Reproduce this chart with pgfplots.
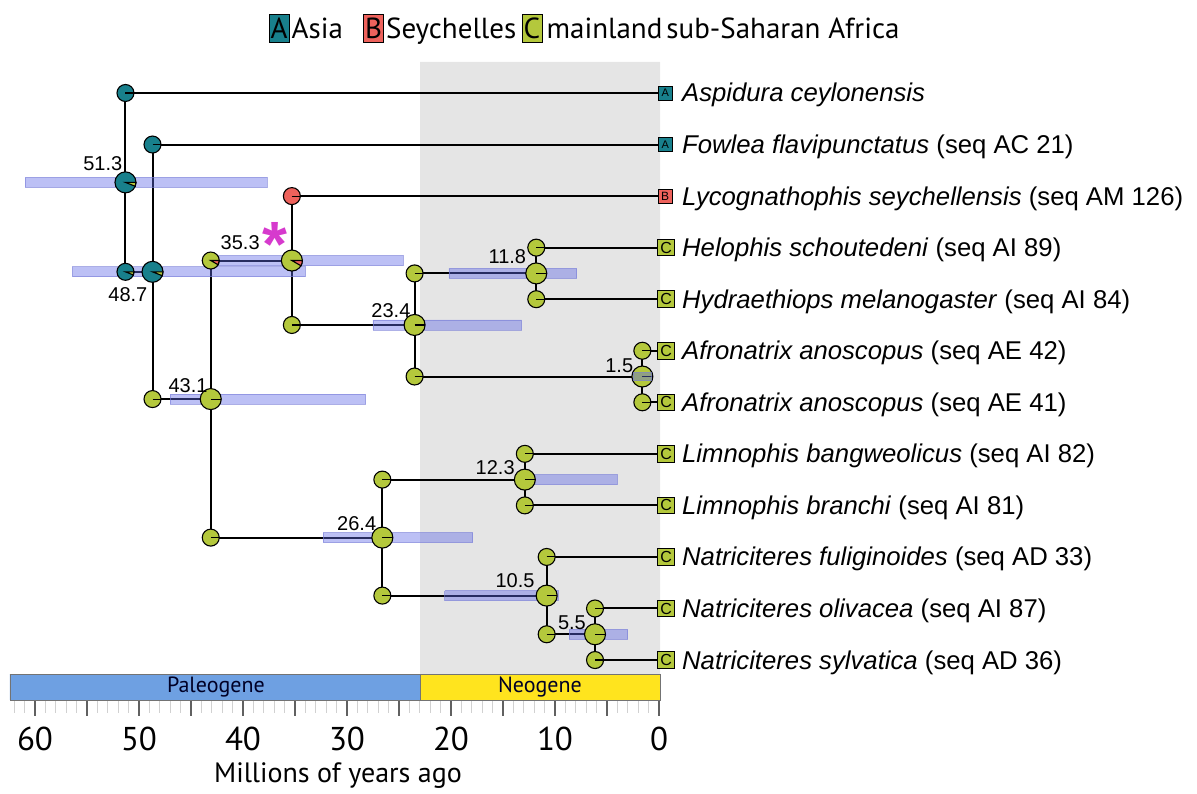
\documentclass[border=0pt]{standalone}
\usepackage{pgfplots}
\pgfplotsset{compat=1.18}
\usepackage{fontspec}
\setmainfont{Liberation Sans}
\newfontfamily\ptsans{PT Sans}
\definecolor{tealc}{RGB}{24,128,140}
\definecolor{redc}{RGB}{238,98,92}
\definecolor{greenc}{RGB}{180,200,60}
\definecolor{hpdc}{RGB}{95,105,230}
\definecolor{hpdline}{RGB}{120,125,215}
\definecolor{neogray}{RGB}{229,229,229}
\definecolor{paleoc}{RGB}{110,160,226}
\definecolor{neoc}{RGB}{255,228,30}
\definecolor{magc}{RGB}{214,58,205}

\pgfdeclareplotmark{pie}{%
  \pgfpathcircle{\pgfpointorigin}{\pgfplotmarksize}%
  \pgfusepathqfillstroke
  \pgfpathmoveto{\pgfpointorigin}%
  \pgfpathlineto{\pgfqpoint{\pgfplotmarksize}{0pt}}%
  \pgfusepathqstroke
}
\pgfdeclareplotmark{pieg}{%
  \pgfpathcircle{\pgfpointorigin}{\pgfplotmarksize}%
  \pgfusepathqfillstroke
  \begin{pgfscope}%
  \pgfsetfillcolor{greenc}%
  \pgfpathmoveto{\pgfpointorigin}%
  \pgfpathlineto{\pgfqpoint{\pgfplotmarksize}{0pt}}%
  \pgfpatharc{0}{-22}{\the\pgfplotmarksize}%
  \pgfpathclose
  \pgfusepathqfillstroke
  \end{pgfscope}%
}
\pgfdeclareplotmark{pier}{%
  \pgfpathcircle{\pgfpointorigin}{\pgfplotmarksize}%
  \pgfusepathqfillstroke
  \begin{pgfscope}%
  \pgfsetfillcolor{redc}%
  \pgfpathmoveto{\pgfpointorigin}%
  \pgfpathlineto{\pgfqpoint{\pgfplotmarksize}{0pt}}%
  \pgfpatharc{0}{-30}{\the\pgfplotmarksize}%
  \pgfpathclose
  \pgfusepathqfillstroke
  \end{pgfscope}%
}
\newcommand\hpd[4]{\addplot[hpd] coordinates {(#1,#3)(#2,#3)(#2,#4)(#1,#4)(#1,#3)};}

\begin{document}
\begin{tikzpicture}[x=1pt,y=1pt,
  hpd/.style={fill=hpdc, fill opacity=0.42, draw=hpdline, draw opacity=0.6, line width=0.8pt},
  br/.style={black, line width=2pt},
  nlab/.style={anchor=base east, inner sep=0pt, font=\fontsize{20}{20}\selectfont},
  tlab/.style={anchor=base west, inner sep=0pt, yshift=-9pt, font=\fontsize{25.7}{28}\selectfont},
  tipl/.style={inner sep=0pt}]
\path[use as bounding box] (0,0) rectangle (1197,794);
\begin{axis}[
  at={(10pt,94pt)}, anchor=south west,
  scale only axis, width=649pt, height=638pt,
  x dir=reverse, xmin=0, xmax=62.404,
  ymin=-12.775, ymax=-0.3986,
  clip=false, clip marker paths=true,
  axis x line*=bottom, axis y line=none,
  x axis line style={draw=none},
  ytick=\empty,
  xtick={0,10,...,60},
  extra x ticks={5,15,25,35,45,55}, extra x tick labels={},
  extra x tick style={grid=none},
  minor xtick={1,2,3,4,6,7,8,9,11,12,13,14,16,17,18,19,21,22,23,24,26,27,28,29,31,32,33,34,36,37,38,39,41,42,43,44,46,47,48,49,51,52,53,54,56,57,58,59,61,62},
  tick align=outside,
  major tick length=16pt, minor tick length=13pt,
  major tick style={draw=black!62, line width=1.4pt},
  minor tick style={draw=black!18, line width=1pt},
  /pgf/number format/assume math mode=true,
  xticklabel style={font=\ptsans\fontsize{33}{33}\selectfont, yshift=-7pt},
]
% Neogene shading
\addplot[fill=neogray, draw=none, no marks] coordinates {(22.98,-0.3986)(-0.1,-0.3986)(-0.1,-12.271)(22.98,-12.271)(22.98,-0.3986)};
% period bar
\addplot[fill=paleoc, draw=black!55, line width=0.8pt, no marks] coordinates {(62.404,-12.271)(22.98,-12.271)(22.98,-12.775)(62.404,-12.775)(62.404,-12.271)};
\addplot[fill=neoc, draw=black!55, line width=0.8pt, no marks] coordinates {(22.98,-12.271)(-0.1,-12.271)(-0.1,-12.775)(22.98,-12.775)(22.98,-12.271)};
\node[font=\ptsans\fontsize{22}{22}\selectfont, text=black!85!blue] at (axis cs:42.6,-12.523) {Paleogene};
\node[font=\ptsans\fontsize{22}{22}\selectfont, text=black!85!blue] at (axis cs:11.44,-12.523) {Neogene};
% tree branches
\addplot[br, no marks] coordinates {(0,-1)(51.3,-1)(51.3,-4.469)(48.7,-4.469)};
\addplot[br, no marks] coordinates {(0,-2)(48.7,-2)(48.7,-6.9375)(43.1,-6.9375)};
\addplot[br, no marks] coordinates {(35.3,-4.25)(43.1,-4.25)(43.1,-9.625)(26.6,-9.625)};
\addplot[br, no marks] coordinates {(0,-3)(35.3,-3)(35.3,-5.5)(23.5,-5.5)};
\addplot[br, no marks] coordinates {(11.8,-4.5)(23.5,-4.5)(23.5,-6.5)(1.6,-6.5)};
\addplot[br, no marks] coordinates {(0,-4)(11.8,-4)(11.8,-5)(0,-5)};
\addplot[br, no marks] coordinates {(0,-6)(1.6,-6)(1.6,-7)(0,-7)};
\addplot[br, no marks] coordinates {(12.9,-8.5)(26.6,-8.5)(26.6,-10.75)(10.8,-10.75)};
\addplot[br, no marks] coordinates {(0,-8)(12.9,-8)(12.9,-9)(0,-9)};
\addplot[br, no marks] coordinates {(0,-10)(10.8,-10)(10.8,-11.5)(6.15,-11.5)};
\addplot[br, no marks] coordinates {(0,-11)(6.15,-11)(6.15,-12)(0,-12)};
% HPD bars
\hpd{60.96}{37.7}{-2.637}{-2.831}
\hpd{56.4}{34.0}{-4.372}{-4.566}
\hpd{42.7}{24.6}{-4.153}{-4.347}
\hpd{47.0}{28.2}{-6.841}{-7.035}
\hpd{27.5}{13.2}{-5.403}{-5.597}
\hpd{20.2}{7.9}{-4.403}{-4.597}
\hpd{32.3}{17.9}{-9.528}{-9.722}
\hpd{12.4}{4.0}{-8.403}{-8.597}
\hpd{20.6}{9.7}{-10.653}{-10.847}
\hpd{8.65}{3.0}{-11.403}{-11.597}
% pies: corners
\addplot[only marks, mark=pie, mark size=8.5pt, mark options={fill=tealc, draw=black, line width=1.1pt}] coordinates {(51.3,-1)(48.7,-2)};
\addplot[only marks, mark=pieg, mark size=8.5pt, mark options={fill=tealc, draw=black, line width=1.1pt}] coordinates {(51.3,-4.469)};
\addplot[only marks, mark=pie, mark size=8.5pt, mark options={fill=redc, draw=black, line width=1.1pt}] coordinates {(35.3,-3)};
\addplot[only marks, mark=pier, mark size=8.5pt, mark options={fill=greenc, draw=black, line width=1.1pt}] coordinates {(43.1,-4.25)};
\addplot[only marks, mark=pie, mark size=8.5pt, mark options={fill=greenc, draw=black, line width=1.1pt}] coordinates {(48.7,-6.9375)(43.1,-9.625)(35.3,-5.5)(23.5,-4.5)(23.5,-6.5)(11.8,-4)(11.8,-5)(1.6,-6)(1.6,-7)(26.6,-8.5)(26.6,-10.75)(12.9,-8)(12.9,-9)(10.8,-10)(10.8,-11.5)(6.15,-11)(6.15,-12)};
% pies: nodes
\addplot[only marks, mark=pieg, mark size=10.5pt, mark options={fill=tealc, draw=black, line width=1.1pt}] coordinates {(51.3,-2.734)(48.7,-4.469)};
\addplot[only marks, mark=pier, mark size=10.5pt, mark options={fill=greenc, draw=black, line width=1.1pt}] coordinates {(35.3,-4.25)};
\addplot[only marks, mark=pie, mark size=10.5pt, mark options={fill=greenc, draw=black, line width=1.1pt}] coordinates {(43.1,-6.9375)(23.5,-5.5)(11.8,-4.5)(1.6,-6.5)(26.6,-9.625)(12.9,-8.5)(10.8,-10.75)(6.15,-11.5)};
\hpd{2.5}{0.7}{-6.42}{-6.58}
% tip squares
\addplot[only marks, mark=square*, mark size=7pt, mark options={fill=tealc, draw=black, line width=0.8pt}] coordinates {(-0.6,-1)(-0.6,-2)};
\addplot[only marks, mark=square*, mark size=7pt, mark options={fill=redc, draw=black, line width=0.8pt}] coordinates {(-0.6,-3)};
\addplot[only marks, mark=square*, mark size=8.3pt, mark options={fill=greenc, draw=black, line width=0.9pt}] coordinates {(-0.68,-4)(-0.68,-5)(-0.68,-6)(-0.68,-7)(-0.68,-8)(-0.68,-9)(-0.68,-10)(-0.68,-11)(-0.68,-12)};
\node[tipl, font=\fontsize{11}{11}\selectfont] at (axis cs:-0.6,-1) {A};
\node[tipl, font=\fontsize{11}{11}\selectfont] at (axis cs:-0.6,-2) {A};
\node[tipl, font=\fontsize{12}{12}\selectfont] at (axis cs:-0.6,-3) {B};
\node[tipl, font=\fontsize{16}{16}\selectfont] at (axis cs:-0.68,-4) {C};
\node[tipl, font=\fontsize{16}{16}\selectfont] at (axis cs:-0.68,-5) {C};
\node[tipl, font=\fontsize{16}{16}\selectfont] at (axis cs:-0.68,-6) {C};
\node[tipl, font=\fontsize{16}{16}\selectfont] at (axis cs:-0.68,-7) {C};
\node[tipl, font=\fontsize{16}{16}\selectfont] at (axis cs:-0.68,-8) {C};
\node[tipl, font=\fontsize{16}{16}\selectfont] at (axis cs:-0.68,-9) {C};
\node[tipl, font=\fontsize{16}{16}\selectfont] at (axis cs:-0.68,-10) {C};
\node[tipl, font=\fontsize{16}{16}\selectfont] at (axis cs:-0.68,-11) {C};
\node[tipl, font=\fontsize{16}{16}\selectfont] at (axis cs:-0.68,-12) {C};
% tip labels
\node[tlab] at (axis cs:-2.21,-1) {\textit{Aspidura ceylonensis}};
\node[tlab] at (axis cs:-2.21,-2) {\textit{Fowlea flavipunctatus} (seq AC 21)};
\node[tlab] at (axis cs:-2.21,-3) {\textit{Lycognathophis seychellensis} (seq AM 126)};
\node[tlab] at (axis cs:-2.21,-4) {\textit{Helophis schoutedeni} (seq AI 89)};
\node[tlab] at (axis cs:-2.21,-5) {\textit{Hydraethiops melanogaster} (seq AI 84)};
\node[tlab] at (axis cs:-2.21,-6) {\textit{Afronatrix anoscopus} (seq AE 42)};
\node[tlab] at (axis cs:-2.21,-7) {\textit{Afronatrix anoscopus} (seq AE 41)};
\node[tlab] at (axis cs:-2.21,-8) {\textit{Limnophis bangweolicus} (seq AI 82)};
\node[tlab] at (axis cs:-2.21,-9) {\textit{Limnophis branchi} (seq AI 81)};
\node[tlab] at (axis cs:-2.21,-10) {\textit{Natriciteres fuliginoides} (seq AD 33)};
\node[tlab] at (axis cs:-2.21,-11) {\textit{Natriciteres olivacea} (seq AI 87)};
\node[tlab] at (axis cs:-2.21,-12) {\textit{Natriciteres sylvatica} (seq AD 36)};
% node age labels
\node[nlab, xshift=-3pt, yshift=12pt] at (axis cs:51.3,-2.734) {51.3};
\node[nlab, xshift=-5pt, yshift=-30pt] at (axis cs:48.7,-4.469) {48.7};
\node[nlab, xshift=-32pt, yshift=11pt] at (axis cs:35.3,-4.25) {35.3};
\node[nlab, xshift=-3pt, yshift=7pt] at (axis cs:43.1,-6.9375) {43.1};
\node[nlab, xshift=-4pt, yshift=7pt] at (axis cs:23.5,-5.5) {23.4};
\node[nlab, xshift=-10pt, yshift=10pt] at (axis cs:11.8,-4.5) {11.8};
\node[nlab, xshift=-9pt, yshift=4pt] at (axis cs:1.6,-6.5) {1.5};
\node[nlab, xshift=-6pt, yshift=7pt] at (axis cs:26.6,-9.625) {26.4};
\node[nlab, xshift=-10pt, yshift=5pt] at (axis cs:12.9,-8.5) {12.3};
\node[nlab, xshift=-12pt, yshift=8pt] at (axis cs:10.8,-10.75) {10.5};
\node[nlab, xshift=-9pt, yshift=5pt] at (axis cs:6.15,-11.5) {5.5};
% asterisk
\node[anchor=base, inner sep=0pt, text=magc, font=\bfseries\fontsize{64}{64}\selectfont] at (axis cs:36.92,-4.375) {*};
\end{axis}
% x label
\node[font=\ptsans\fontsize{28}{28}\selectfont] at (338,18) {Millions of years ago};
% legend
\begin{scope}[font=\ptsans\fontsize{29}{29}\selectfont, lbox/.style={draw=black, line width=0.8pt, minimum width=20pt, minimum height=28pt, inner sep=0pt}]
\node[lbox, fill=tealc] (la) at (279,766) {A};
\node[anchor=base west, inner sep=0pt, xshift=2pt, yshift=-10.2pt] (ta) at (la.east) {Asia};
\node[lbox, fill=redc, anchor=west, xshift=20pt, yshift=10.2pt] (lb) at (ta.base east) {B};
\node[anchor=base west, inner sep=0pt, xshift=2pt, yshift=-10.2pt] (tb) at (lb.east) {Seychelles};
\node[lbox, fill=greenc, anchor=west, xshift=5pt, yshift=10.2pt] (lc) at (tb.base east) {C};
\node[anchor=base west, inner sep=0pt, xshift=4pt, yshift=-10.2pt] (tc) at (lc.east) {mainland\hspace{4pt}sub-Saharan Africa};
\end{scope}
\end{tikzpicture}
\end{document}
